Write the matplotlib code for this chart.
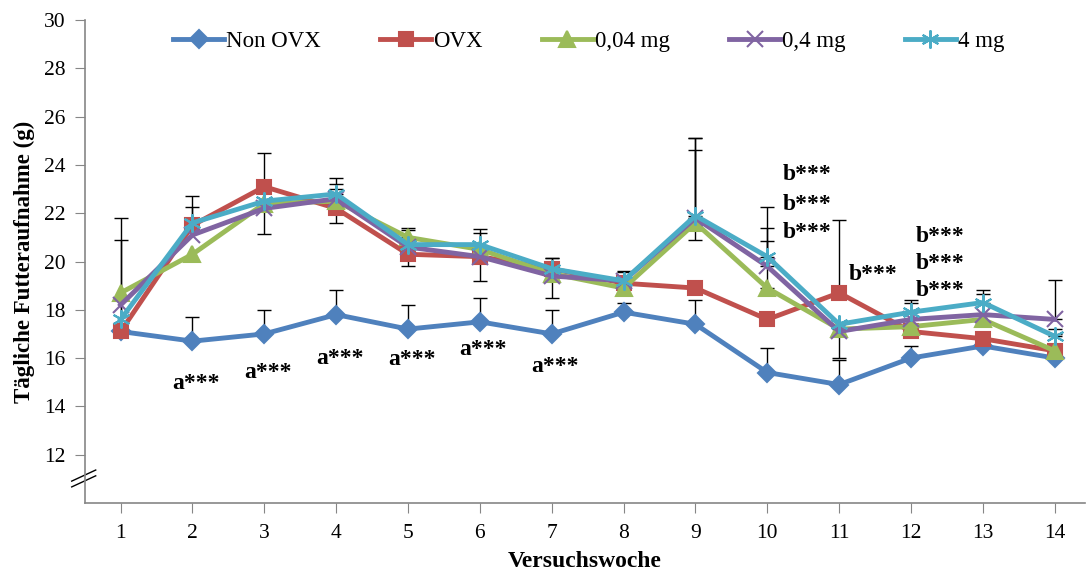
"""
Tägliche Futteraufnahme pro Versuchswoche
"""
import numpy as np
import matplotlib.pyplot as plt

plt.rcParams['font.family'] = ['Liberation Serif', 'DejaVu Serif']

weeks = list(range(1, 15))
labels = ['Non OVX', 'OVX', '0,04 mg', '0,4 mg', '4 mg']

non_ovx = [17.1, 16.7, 17.0, 17.8, 17.2, 17.5, 17.0, 17.9, 17.4, 15.4, 14.9, 16.0, 16.5, 16.0]
ovx = [17.1, 21.5, 23.1, 22.2, 20.3, 20.2, 19.7, 19.1, 18.9, 17.6, 18.7, 17.1, 16.8, 16.3]
mg004 = [18.7, 20.3, 22.4, 22.5, 21.0, 20.5, 19.5, 18.9, 21.6, 18.9, 17.2, 17.3, 17.6, 16.3]
mg04 = [18.2, 21.1, 22.2, 22.6, 20.6, 20.2, 19.4, 19.2, 21.8, 19.8, 17.1, 17.6, 17.8, 17.6]
mg4 = [17.6, 21.6, 22.5, 22.8, 20.7, 20.7, 19.7, 19.2, 21.9, 20.2, 17.4, 17.9, 18.3, 16.9]

# error bars (plus / minus) as far as visible in the original
non_ovx_up = [3.8, 1.0, 1.0, 1.0, 1.0, 1.0, 1.0, 0.4, 1.0, 1.0, 1.0, 0.5, 0, 0]
non_ovx_dn = [0] * 14
ovx_up = [4.7, 1.2, 1.4, 0, 0, 0, 0.45, 0, 0, 0, 3.0, 0, 0, 0.7]
ovx_dn = [0, 0, 0, 0.6, 0.5, 0, 0, 0, 0, 0, 0, 0, 0, 0]
mg004_up = [0, 0, 0, 0.5, 0.4, 0.7, 0, 0, 3.0, 1.95, 0, 0, 0, 0]
mg004_dn = [0, 0, 0, 0, 0, 0, 1.0, 0, 0.7, 0, 1.2, 0.25, 0, 0]
mg04_up = [0, 0, 0, 0.6, 0, 0, 0, 0.4, 3.3, 1.6, 0, 0.7, 0.85, 1.65]
mg04_dn = [0, 0, 1.05, 0, 0, 1.0, 0, 0, 0, 0, 0, 0, 0, 0]
mg4_up = [0, 0.65, 0, 0.65, 0.6, 0.65, 0.45, 0.35, 3.2, 2.05, 0, 0.5, 0.5, 0.3]
mg4_dn = [0] * 14

# significance labels
a_weeks = [2, 3, 4, 5, 6, 7]
a_y = [14.95, 15.4, 16.0, 15.95, 16.35, 15.65]
b_x = [10.22, 10.22, 10.22, 11.13, 12.07, 12.07, 12.07]
b_y = [23.6, 22.35, 21.2, 19.45, 21.05, 19.9, 18.8]

colors = ['#4F81BD', '#C0504D', '#9BBB59', '#8064A2', '#4BACC6']
markers = ['D', 's', '^', 'x', (6, 2, 0)]
msizes = [9, 10, 11, 11, 13]

series = [non_ovx, ovx, mg004, mg04, mg4]
ups = [non_ovx_up, ovx_up, mg004_up, mg04_up, mg4_up]
dns = [non_ovx_dn, ovx_dn, mg004_dn, mg04_dn, mg4_dn]

fig = plt.figure(figsize=(10.86, 5.76), dpi=100)
ax = fig.add_axes([0.078, 0.127, 0.921, 0.838])

x = np.array(weeks)
for vals, up, dn in zip(series, ups, dns):
    vals = np.array(vals)
    up = np.array(up)
    dn = np.array(dn)
    for i in range(len(x)):
        if up[i] > 0:
            ax.errorbar(x[i], vals[i], yerr=[[0], [up[i]]], fmt='none',
                        ecolor='black', elinewidth=1, capsize=5, capthick=1, zorder=1)
        if dn[i] > 0:
            ax.errorbar(x[i], vals[i], yerr=[[dn[i]], [0]], fmt='none',
                        ecolor='black', elinewidth=1, capsize=5, capthick=1, zorder=1)

for vals, lab, c, m, ms in zip(series, labels, colors, markers, msizes):
    ax.plot(x, vals, color=c, lw=3.5, marker=m, markersize=ms,
            markeredgewidth=1.5, markerfacecolor=c, markeredgecolor=c,
            label=lab, zorder=3)

for w, yy in zip(a_weeks, a_y):
    ax.text(w + 0.05, yy, 'a***', ha='center', va='center',
            fontsize=17, fontweight='bold', zorder=5)
for xx, yy in zip(b_x, b_y):
    ax.text(xx, yy, 'b***', ha='left', va='center',
            fontsize=17, fontweight='bold', zorder=5)

ax.set_xlim(0.5, 14.42)
ax.set_ylim(10, 30)
ax.set_xticks(weeks)
ax.set_yticks(np.arange(12, 31, 2))
ax.tick_params(axis='both', labelsize=15.5, length=7, color='#868686', direction='out')
ax.tick_params(axis='x', pad=8)
ax.tick_params(axis='y', pad=7)
for s in ['top', 'right']:
    ax.spines[s].set_visible(False)
for s in ['left', 'bottom']:
    ax.spines[s].set_color('#868686')
    ax.spines[s].set_linewidth(1.2)

# axis break marks
for off in [0, 0.012]:
    ax.plot([-0.013, 0.011], [0.045 - off, 0.068 - off], transform=ax.transAxes,
            color='black', lw=1, clip_on=False)

ax.set_xlabel('Versuchswoche', fontsize=17, fontweight='bold', labelpad=6)
ax.set_ylabel('Tägliche Futteraufnahme (g)', fontsize=16.5, fontweight='bold', labelpad=6)

ax.legend(loc='upper center', bbox_to_anchor=(0.504, 1.02), ncol=5, frameon=False,
          fontsize=16.5, handlelength=2.2, handletextpad=0.1, columnspacing=2.6)

fig.savefig('out.png', dpi=100)
